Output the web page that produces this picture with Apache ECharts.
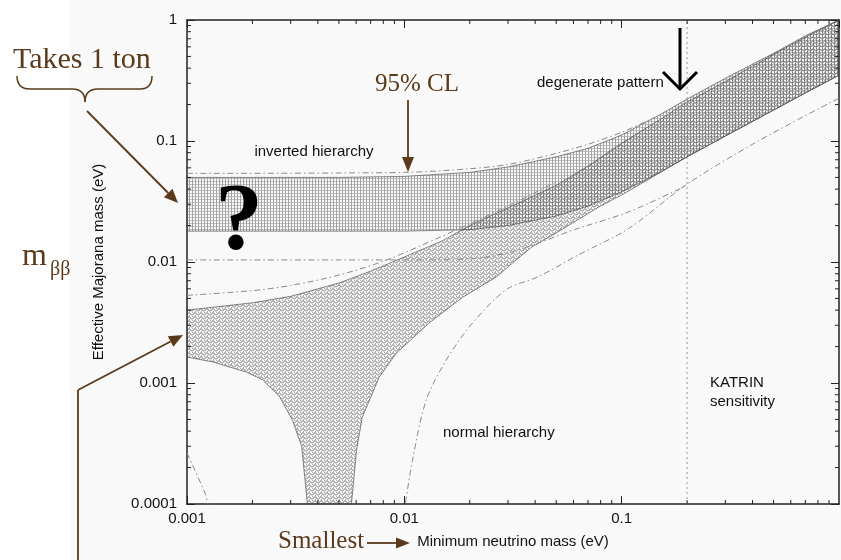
<!DOCTYPE html>
<html>
<head>
<meta charset="utf-8">
<script src="https://cdn.jsdelivr.net/npm/echarts@6/dist/echarts.min.js"></script>
<style>
html,body{margin:0;padding:0;background:#fff;}
#chart{width:841px;height:560px;}
</style>
</head>
<body>
<div id="chart"></div>
<script>
// ---------------- data ----------------
// Inverted hierarchy band
const ihMass  = [0.001, 0.005, 0.01, 0.02, 0.03, 0.05, 0.07, 0.1, 0.15, 0.2, 0.3, 0.5, 0.7, 1];
const ihUpper = [0.050, 0.050, 0.051, 0.055, 0.061, 0.074, 0.087, 0.112, 0.165, 0.222, 0.33, 0.53, 0.74, 1.0];
const ihLower = [0.018, 0.018, 0.018, 0.0185, 0.020, 0.024, 0.029, 0.038, 0.055, 0.074, 0.11, 0.18, 0.25, 0.35];

// Normal hierarchy band
const nhUpperMass = [0.001, 0.002, 0.003, 0.005, 0.007, 0.01, 0.015, 0.02, 0.03, 0.05, 0.07, 0.1, 0.15, 0.2, 0.3, 0.5, 0.7, 1];
const nhUpper     = [0.0040, 0.0046, 0.0052, 0.0067, 0.0084, 0.011, 0.015, 0.020, 0.028, 0.043, 0.062, 0.096, 0.15, 0.21, 0.31, 0.52, 0.72, 1.0];
const nhLowerMass = [0.001, 0.00132, 0.00188, 0.00223, 0.00267, 0.00306, 0.00337, 0.00358, 0.0039, 0.0052, 0.00571, 0.00603, 0.0064, 0.00767, 0.0092, 0.013, 0.0185, 0.0264, 0.0327, 0.0386, 0.05, 0.0785, 0.1, 0.2, 0.5, 1];
const nhLower     = [0.00164, 0.00149, 0.00123, 0.00106, 0.00077, 0.00049, 0.00030, 0.0001, 0.00003, 0.00003, 0.0001, 0.00028, 0.00052, 0.00112, 0.00177, 0.00313, 0.0051, 0.0075, 0.0104, 0.0133, 0.0174, 0.0285, 0.0358, 0.074, 0.18, 0.35];

// 95% CL dash-dot contours
const ih95TopMass = [0.001, 0.01, 0.02, 0.03, 0.05, 0.07, 0.1, 0.14];
const ih95Top     = [0.054, 0.055, 0.059, 0.064, 0.079, 0.094, 0.118, 0.155];
const ih95BotMass = [0.001, 0.01, 0.02, 0.03, 0.0416, 0.06, 0.108, 0.2];
const ih95Bot     = [0.0104, 0.0104, 0.0106, 0.0119, 0.0144, 0.0184, 0.026, 0.043];
const nh95TopMass = [0.001, 0.002, 0.003, 0.005, 0.0083, 0.0185, 0.03, 0.05];
const nh95Top     = [0.0053, 0.0058, 0.0064, 0.0078, 0.0104, 0.0194, 0.029, 0.046];
const nh95LowLeftMass = [0.001, 0.00121, 0.00125, 0.0013];
const nh95LowLeft     = [0.000264, 0.000123, 0.0001, 0.00008];
const nh95LowRightMass = [0.0099, 0.0101, 0.0109, 0.0126, 0.0156, 0.0205, 0.0294, 0.0416, 0.0635, 0.1077, 0.2, 0.425, 1];
const nh95LowRight     = [0.00008, 0.0001, 0.00023, 0.00072, 0.00155, 0.0031, 0.0059, 0.0076, 0.0115, 0.0189, 0.044, 0.1, 0.226];

// KATRIN sensitivity
const katrinMass = 0.2;

// axes
const xMin = 0.001, xMax = 1, yMin = 0.0001, yMax = 1;
const xMinorTicks = [], yMinorTicks = [];
for (let k = -3; k <= -1; k++) for (let j = 2; j <= 9; j++) xMinorTicks.push(j * Math.pow(10, k));
for (let k = -4; k <= -1; k++) for (let j = 2; j <= 9; j++) yMinorTicks.push(j * Math.pow(10, k));

// ---------------- helpers ----------------
const SANS = 'Liberation Sans, Arial, Helvetica, sans-serif';
const SERIF = 'Liberation Serif, Times New Roman, serif';
const BROWN = '#5b3a1b';

function zip(a, b) { return a.map((v, i) => [v, b[i]]); }

function makePattern(kind) {
  const c = document.createElement('canvas');
  const ctx = c.getContext('2d');
  if (kind === 'ih') {
    c.width = 3; c.height = 3;
    ctx.fillStyle = 'rgba(100,100,100,0.58)';
    ctx.fillRect(0, 0, 1, 3);
    ctx.fillStyle = 'rgba(100,100,100,0.38)';
    ctx.fillRect(1, 1, 2, 1);
  } else {
    c.width = 6; c.height = 4;
    ctx.strokeStyle = 'rgba(55,55,55,0.75)';
    ctx.lineWidth = 1;
    ctx.beginPath();
    ctx.moveTo(0, 3.5); ctx.lineTo(3, 0.5); ctx.lineTo(6, 3.5);
    ctx.stroke();
    ctx.fillStyle = 'rgba(55,55,55,0.45)';
    ctx.fillRect(0, 0, 1, 1);
    ctx.fillRect(3, 3, 1, 1);
  }
  return { image: c, repeat: 'repeat' };
}
const ihPattern = makePattern('ih');
const nhPattern = makePattern('nh');

function bandSeries(upperPts, lowerPts, fill, z) {
  return {
    type: 'custom',
    coordinateSystem: 'cartesian2d',
    xAxisIndex: 0, yAxisIndex: 0,
    silent: true,
    z: z,
    data: [[0.01, 0.01]],
    renderItem: function (params, api) {
      const pts = [];
      upperPts.forEach(p => pts.push(api.coord(p)));
      lowerPts.slice().reverse().forEach(p => pts.push(api.coord(p)));
      const cs = params.coordSys;
      return {
        type: 'polygon',
        shape: { points: pts },
        style: { fill: fill, stroke: 'rgba(70,70,70,0.8)', lineWidth: 0.8 },
        clipPath: { type: 'rect', shape: { x: cs.x, y: cs.y, width: cs.width, height: cs.height } }
      };
    }
  };
}

function dashDot(mass, vals) {
  return {
    type: 'line',
    xAxisIndex: 0, yAxisIndex: 0,
    data: zip(mass, vals),
    symbol: 'none',
    smooth: 0.3,
    silent: true,
    z: 5,
    lineStyle: { color: '#8a8a8a', width: 1, type: [6, 3, 1.5, 3] }
  };
}

const tickSeries = {
  type: 'custom',
  coordinateSystem: 'cartesian2d',
  xAxisIndex: 0, yAxisIndex: 0,
  silent: true,
  z: 8,
  data: [[0.01, 0.01]],
  renderItem: function (params, api) {
    const cs = params.coordSys;
    const children = [];
    const st = { stroke: '#222', lineWidth: 1 };
    xMinorTicks.forEach(v => {
      const p = api.coord([v, yMin]);
      children.push({ type: 'line', shape: { x1: p[0], y1: cs.y + cs.height, x2: p[0], y2: cs.y + cs.height - 4 }, style: st });
      children.push({ type: 'line', shape: { x1: p[0], y1: cs.y, x2: p[0], y2: cs.y + 4 }, style: st });
    });
    yMinorTicks.forEach(v => {
      const p = api.coord([xMin, v]);
      children.push({ type: 'line', shape: { x1: cs.x, y1: p[1], x2: cs.x + 4, y2: p[1] }, style: st });
      children.push({ type: 'line', shape: { x1: cs.x + cs.width, y1: p[1], x2: cs.x + cs.width - 4, y2: p[1] }, style: st });
    });
    return { type: 'group', children: children };
  }
};

function fmt(v) { return Number(v.toPrecision(2)).toString(); }

const axisCommon = {
  type: 'log', logBase: 10,
  axisLine: { lineStyle: { color: '#222', width: 1.5 } },
  axisTick: { inside: true, length: 8, lineStyle: { color: '#222', width: 1 } },
  splitLine: { show: false },
  minorTick: { show: false }
};

const chart = echarts.init(document.getElementById('chart'), null, { renderer: 'canvas' });

const braceStyle = { fill: 'none', stroke: BROWN, lineWidth: 1.5 };

const option = {
  backgroundColor: '#f9f9f9',
  animation: false,
  grid: { left: 187, right: 2, top: 20, bottom: 56 },
  xAxis: [
    Object.assign({}, axisCommon, {
      min: xMin, max: xMax, position: 'bottom',
      name: 'Minimum neutrino mass (eV)', nameLocation: 'middle', nameGap: 30,
      nameTextStyle: { fontFamily: SANS, fontSize: 15, color: '#111' },
      axisLabel: { formatter: fmt, margin: 7, fontFamily: SANS, fontSize: 15, color: '#111', showMaxLabel: false }
    }),
    Object.assign({}, axisCommon, {
      min: xMin, max: xMax, position: 'top', axisLabel: { show: false }
    })
  ],
  yAxis: [
    Object.assign({}, axisCommon, {
      min: yMin, max: yMax, position: 'left',
      name: 'Effective Majorana mass (eV)', nameLocation: 'middle', nameGap: 81, nameRotate: 90,
      nameTextStyle: { fontFamily: SANS, fontSize: 15, color: '#111' },
      axisLabel: { formatter: fmt, margin: 10, fontFamily: SANS, fontSize: 15, color: '#111' }
    }),
    Object.assign({}, axisCommon, {
      min: yMin, max: yMax, position: 'right', axisLabel: { show: false }
    })
  ],
  series: [
    bandSeries(zip(ihMass, ihUpper), zip(ihMass, ihLower), ihPattern, 2),
    bandSeries(zip(nhUpperMass, nhUpper), zip(nhLowerMass, nhLower), nhPattern, 3),
    dashDot(ih95TopMass, ih95Top),
    dashDot(ih95BotMass, ih95Bot),
    dashDot(nh95TopMass, nh95Top),
    dashDot(nh95LowLeftMass, nh95LowLeft),
    dashDot(nh95LowRightMass, nh95LowRight),
    {
      type: 'line', xAxisIndex: 0, yAxisIndex: 0, symbol: 'none', silent: true, z: 4,
      data: [[katrinMass, yMin], [katrinMass, yMax]],
      lineStyle: { color: '#999', width: 1, type: [2, 3] }
    },
    tickSeries
  ],
  graphic: [
    { type: 'rect', silent: true, z: 0, shape: { x: 0, y: 0, width: 70, height: 560 }, style: { fill: '#ffffff' } },
    // plot texts
    { type: 'text', silent: true, z: 20, x: 314, y: 152, style: { text: 'inverted hierarchy', font: '15px ' + SANS, fill: '#111', textAlign: 'center', textVerticalAlign: 'middle' } },
    { type: 'text', silent: true, z: 20, x: 537, y: 83, style: { text: 'degenerate pattern', font: '15px ' + SANS, fill: '#111', textAlign: 'left', textVerticalAlign: 'middle' } },
    { type: 'text', silent: true, z: 20, x: 443, y: 433, style: { text: 'normal hierarchy', font: '15px ' + SANS, fill: '#111', textAlign: 'left', textVerticalAlign: 'middle' } },
    { type: 'text', silent: true, z: 20, x: 710, y: 383, style: { text: 'KATRIN', font: '15px ' + SANS, fill: '#111', textAlign: 'left', textVerticalAlign: 'middle' } },
    { type: 'text', silent: true, z: 20, x: 710, y: 402, style: { text: 'sensitivity', font: '15px ' + SANS, fill: '#111', textAlign: 'left', textVerticalAlign: 'middle' } },
    // brown annotations
    { type: 'text', silent: true, z: 20, x: 13, y: 60, style: { text: 'Takes 1 ton', font: '30px ' + SERIF, fill: BROWN, textAlign: 'left', textVerticalAlign: 'middle' } },
    { type: 'bezierCurve', silent: true, z: 20, shape: { x1: 17, y1: 76, x2: 30, y2: 89, cpx1: 17, cpy1: 89 }, style: braceStyle },
    { type: 'line', silent: true, z: 20, shape: { x1: 30, y1: 89, x2: 72, y2: 89 }, style: braceStyle },
    { type: 'bezierCurve', silent: true, z: 20, shape: { x1: 72, y1: 89, x2: 85, y2: 102, cpx1: 85, cpy1: 89 }, style: braceStyle },
    { type: 'bezierCurve', silent: true, z: 20, shape: { x1: 85, y1: 102, x2: 98, y2: 89, cpx1: 85, cpy1: 89 }, style: braceStyle },
    { type: 'line', silent: true, z: 20, shape: { x1: 98, y1: 89, x2: 140, y2: 89 }, style: braceStyle },
    { type: 'bezierCurve', silent: true, z: 20, shape: { x1: 140, y1: 89, x2: 152, y2: 76, cpx1: 152, cpy1: 89 }, style: braceStyle },
    { type: 'line', silent: true, z: 20, shape: { x1: 87, y1: 111, x2: 168.2, y2: 193 }, style: { stroke: BROWN, lineWidth: 1.8 } },
    { type: 'polygon', silent: true, z: 20, shape: { points: [[178, 203], [163.9, 197.2], [172.5, 188.8]] }, style: { fill: BROWN } },
    { type: 'text', silent: true, z: 20, x: 375, y: 84, style: { text: '95% CL', font: '25px ' + SERIF, fill: BROWN, textAlign: 'left', textVerticalAlign: 'middle' } },
    { type: 'line', silent: true, z: 20, shape: { x1: 408, y1: 100, x2: 408, y2: 158 }, style: { stroke: BROWN, lineWidth: 1.8 } },
    { type: 'polygon', silent: true, z: 20, shape: { points: [[408, 172], [402, 157], [414, 157]] }, style: { fill: BROWN } },
    { type: 'text', silent: true, z: 20, x: 22, y: 257, style: { text: 'm', font: '32px ' + SERIF, fill: BROWN, textAlign: 'left', textVerticalAlign: 'middle' } },
    { type: 'text', silent: true, z: 20, x: 50, y: 270, style: { text: 'ββ', font: '20px ' + SERIF, fill: BROWN, textAlign: 'left', textVerticalAlign: 'middle' } },
    { type: 'line', silent: true, z: 20, shape: { x1: 78, y1: 560, x2: 78, y2: 390 }, style: { stroke: BROWN, lineWidth: 1.8 } },
    { type: 'line', silent: true, z: 20, shape: { x1: 78, y1: 390, x2: 170.6, y2: 341.5 }, style: { stroke: BROWN, lineWidth: 1.8 } },
    { type: 'polygon', silent: true, z: 20, shape: { points: [[183, 335], [173.4, 346.8], [167.8, 336.2]] }, style: { fill: BROWN } },
    { type: 'text', silent: true, z: 20, x: 278, y: 541, style: { text: 'Smallest', font: '25px ' + SERIF, fill: BROWN, textAlign: 'left', textVerticalAlign: 'middle' } },
    { type: 'line', silent: true, z: 20, shape: { x1: 367, y1: 543, x2: 397, y2: 543 }, style: { stroke: BROWN, lineWidth: 1.8 } },
    { type: 'polygon', silent: true, z: 20, shape: { points: [[410, 543], [396, 537.5], [396, 548.5]] }, style: { fill: BROWN } },
    // big question mark and black arrow
    { type: 'text', silent: true, z: 20, x: 239, y: 224, style: { text: '?', font: 'bold 96px ' + SERIF, fill: '#000', textAlign: 'center', textVerticalAlign: 'middle' } },
    { type: 'line', silent: true, z: 20, shape: { x1: 680, y1: 28, x2: 680, y2: 89 }, style: { stroke: '#000', lineWidth: 3 } },
    { type: 'polyline', silent: true, z: 20, shape: { points: [[663, 72], [680, 89], [697, 72]] }, style: { stroke: '#000', lineWidth: 3, fill: 'none' } }
  ]
};
chart.setOption(option);
</script>
</body>
</html>
